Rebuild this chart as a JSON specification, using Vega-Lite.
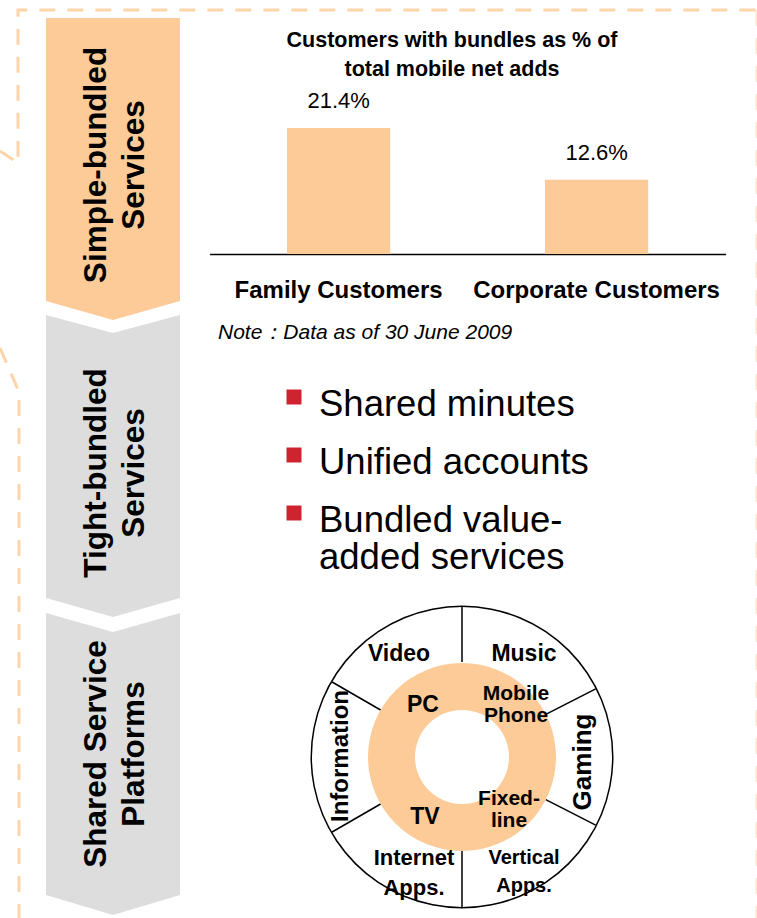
{
  "$schema": "https://vega.github.io/schema/vega-lite/v6.json",
  "width": 757,
  "height": 918,
  "autosize": {"type": "none"},
  "padding": 0,
  "background": "#ffffff",
  "config": {"view": {"stroke": null}, "font": "Liberation Sans", "text": {"font": "Liberation Sans", "color": "#000000"}},
  "datasets": {
    "border": [
      {"path": "a", "o": 0, "x": 0, "y": 151},
      {"path": "a", "o": 1, "x": 18, "y": 163},
      {"path": "a", "o": 2, "x": 18, "y": 10},
      {"path": "a", "o": 3, "x": 757, "y": 10},
      {"path": "b", "o": 0, "x": 0, "y": 348},
      {"path": "b", "o": 1, "x": 19, "y": 392},
      {"path": "b", "o": 2, "x": 19, "y": 918}
    ],
    "edge": [{"x": 757, "y": 10, "y2": 918}],
    "chevrons": [
      {"band": "Simple-bundled Services", "x": 46, "y": 18, "y2": 301},
      {"band": "Simple-bundled Services", "x": 113, "y": 18, "y2": 320},
      {"band": "Simple-bundled Services", "x": 180, "y": 18, "y2": 301},
      {"band": "Tight-bundled Services", "x": 46, "y": 315, "y2": 598},
      {"band": "Tight-bundled Services", "x": 113, "y": 333, "y2": 617},
      {"band": "Tight-bundled Services", "x": 180, "y": 315, "y2": 598},
      {"band": "Shared Service Platforms", "x": 46, "y": 613, "y2": 895},
      {"band": "Shared Service Platforms", "x": 113, "y": 632, "y2": 915},
      {"band": "Shared Service Platforms", "x": 180, "y": 613, "y2": 895}
    ],
    "sections": [
      {"label": "Simple-bundled\nServices", "x": 97, "y": 165},
      {"label": "Tight-bundled\nServices", "x": 97, "y": 473},
      {"label": "Shared Service\nPlatforms", "x": 97, "y": 754}
    ],
    "title": [{"label": "Customers with bundles as % of\ntotal mobile net adds", "x": 452, "y": 41}],
    "note": [{"label": "Note：Data as of 30 June 2009", "x": 218, "y": 333}],
    "bullets": [
      {"label": "Shared minutes", "x": 294, "y": 397},
      {"label": "Unified accounts", "x": 294, "y": 455},
      {"label": "Bundled value-\nadded services", "x": 294, "y": 513}
    ],
    "hub": [{"x": 462, "y": 757}],
    "dividers": [
      {"x": 462, "y": 662, "x2": 462, "y2": 607},
      {"x": 545.8, "y": 714.3, "x2": 595.7, "y2": 688.9},
      {"x": 545.8, "y": 799.7, "x2": 595.7, "y2": 825.1},
      {"x": 462, "y": 851, "x2": 462, "y2": 907},
      {"x": 380.6, "y": 804, "x2": 332.1, "y2": 832},
      {"x": 380.6, "y": 710, "x2": 332.1, "y2": 682}
    ],
    "platformsBig": [
      {"label": "Video", "x": 399, "y": 654},
      {"label": "Music", "x": 524, "y": 654},
      {"label": "PC", "x": 423, "y": 705},
      {"label": "TV", "x": 425, "y": 817}
    ],
    "platformsTwo": [
      {"label": "Mobile\nPhone", "x": 516, "y": 694},
      {"label": "Fixed-\nline", "x": 509, "y": 799}
    ],
    "internet": [{"label": "Internet\nApps.", "x": 414, "y": 858}],
    "vertical": [{"label": "Vertical\nApps.", "x": 524, "y": 858}],
    "gaming": [{"label": "Gaming", "x": 583, "y": 762}],
    "information": [{"label": "Information", "x": 341, "y": 756}],
    "bundles": [
      {"segment": "Family Customers", "share": 0.214},
      {"segment": "Corporate Customers", "share": 0.126}
    ]
  },
  "layer": [
    {
      "encoding": {
        "x": {"field": "x", "type": "quantitative", "scale": {"domain": [0, 757], "nice": false, "zero": false}, "axis": null},
        "y": {"field": "y", "type": "quantitative", "scale": {"domain": [0, 918], "reverse": true, "nice": false, "zero": false}, "axis": null}
      },
      "layer": [
        {
          "data": {"name": "border"},
          "mark": {"type": "line", "color": "#FDD3A8", "strokeWidth": 3, "strokeDash": [16, 12]},
          "encoding": {"detail": {"field": "path"}, "order": {"field": "o", "type": "quantitative"}}
        },
        {
          "data": {"name": "edge"},
          "mark": {"type": "rule", "color": "#FDD3A8", "strokeWidth": 3, "strokeDash": [16, 12], "opacity": 0.6},
          "encoding": {"y2": {"field": "y2"}}
        },
        {
          "data": {"name": "chevrons"},
          "mark": {"type": "area", "interpolate": "linear", "opacity": 1},
          "encoding": {
            "y": {"field": "y", "type": "quantitative", "stack": null, "scale": {"domain": [0, 918], "reverse": true, "nice": false, "zero": false}, "axis": null},
            "y2": {"field": "y2"},
            "color": {"field": "band", "type": "nominal", "scale": {"domain": ["Simple-bundled Services", "Tight-bundled Services", "Shared Service Platforms"], "range": ["#FDCB98", "#DDDDDD", "#DDDDDD"]}, "legend": null}
          }
        },
        {
          "data": {"name": "sections"},
          "mark": {"type": "text", "angle": 270, "align": "center", "baseline": "middle", "fontSize": 31.5, "fontWeight": "bold", "lineBreak": "\n", "lineHeight": 38},
          "encoding": {"text": {"field": "label"}}
        },
        {
          "data": {"name": "title"},
          "mark": {"type": "text", "align": "center", "baseline": "middle", "fontSize": 21.5, "fontWeight": "bold", "lineBreak": "\n", "lineHeight": 29},
          "encoding": {"text": {"field": "label"}}
        },
        {
          "data": {"name": "note"},
          "mark": {"type": "text", "align": "left", "baseline": "middle", "fontSize": 21, "fontStyle": "italic"},
          "encoding": {"text": {"field": "label"}}
        },
        {
          "data": {"name": "bullets"},
          "mark": {"type": "point", "shape": "square", "size": 225, "filled": true, "color": "#CF2430", "opacity": 1}
        },
        {
          "data": {"name": "bullets"},
          "mark": {"type": "text", "align": "left", "baseline": "alphabetic", "dx": 25, "dy": 19, "fontSize": 36.5, "lineBreak": "\n", "lineHeight": 37},
          "encoding": {"text": {"field": "label"}}
        },
        {
          "data": {"name": "hub"},
          "mark": {"type": "point", "shape": "circle", "size": 91809, "filled": true, "color": "#000000", "opacity": 1}
        },
        {
          "data": {"name": "hub"},
          "mark": {"type": "point", "shape": "circle", "size": 90000, "filled": true, "color": "#ffffff", "opacity": 1}
        },
        {
          "data": {"name": "dividers"},
          "mark": {"type": "rule", "color": "#000000", "strokeWidth": 1.5},
          "encoding": {"x2": {"field": "x2"}, "y2": {"field": "y2"}}
        },
        {
          "data": {"name": "hub"},
          "mark": {"type": "point", "shape": "circle", "size": 35344, "filled": true, "color": "#FDCB98", "opacity": 1}
        },
        {
          "data": {"name": "hub"},
          "mark": {"type": "point", "shape": "circle", "size": 8836, "filled": true, "color": "#ffffff", "opacity": 1}
        },
        {
          "data": {"name": "platformsBig"},
          "mark": {"type": "text", "align": "center", "baseline": "middle", "fontSize": 23, "fontWeight": "bold"},
          "encoding": {"text": {"field": "label"}}
        },
        {
          "data": {"name": "platformsTwo"},
          "mark": {"type": "text", "align": "center", "baseline": "middle", "fontSize": 21, "fontWeight": "bold", "lineBreak": "\n", "lineHeight": 22},
          "encoding": {"text": {"field": "label"}}
        },
        {
          "data": {"name": "internet"},
          "mark": {"type": "text", "align": "center", "baseline": "middle", "fontSize": 22, "fontWeight": "bold", "lineBreak": "\n", "lineHeight": 30},
          "encoding": {"text": {"field": "label"}}
        },
        {
          "data": {"name": "vertical"},
          "mark": {"type": "text", "align": "center", "baseline": "middle", "fontSize": 20, "fontWeight": "bold", "lineBreak": "\n", "lineHeight": 28},
          "encoding": {"text": {"field": "label"}}
        },
        {
          "data": {"name": "gaming"},
          "mark": {"type": "text", "align": "center", "baseline": "middle", "angle": 270, "fontSize": 26, "fontWeight": "bold"},
          "encoding": {"text": {"field": "label"}}
        },
        {
          "data": {"name": "information"},
          "mark": {"type": "text", "align": "center", "baseline": "middle", "angle": 270, "fontSize": 24, "fontWeight": "bold"},
          "encoding": {"text": {"field": "label"}}
        }
      ]
    },
    {
      "data": {"name": "bundles"},
      "encoding": {
        "x": {
          "field": "segment", "type": "nominal", "sort": null,
          "scale": {"type": "band", "range": [209.6, 725.6], "paddingInner": 0.6, "paddingOuter": 0.3},
          "axis": {"orient": "bottom", "offset": -664, "title": null, "ticks": false, "tickSize": 0, "labelAngle": 0, "labelFont": "Liberation Sans", "labelFontSize": 24, "labelFontWeight": "bold", "labelColor": "#000000", "labelPadding": 36, "labelBaseline": "middle", "labelLimit": 0, "domainColor": "#000000", "domainWidth": 1.5, "grid": false}
        },
        "y": {"field": "share", "type": "quantitative", "scale": {"domain": [0, 0.25], "range": [254, 106.8], "nice": false, "zero": true}, "axis": null}
      },
      "layer": [
        {"mark": {"type": "bar", "color": "#FDCB98"}},
        {
          "mark": {"type": "text", "dy": -27, "align": "center", "baseline": "middle", "fontSize": 22},
          "encoding": {"text": {"field": "share", "type": "quantitative", "format": ".1%"}}
        }
      ]
    }
  ],
  "resolve": {"scale": {"x": "independent", "y": "independent"}}
}
